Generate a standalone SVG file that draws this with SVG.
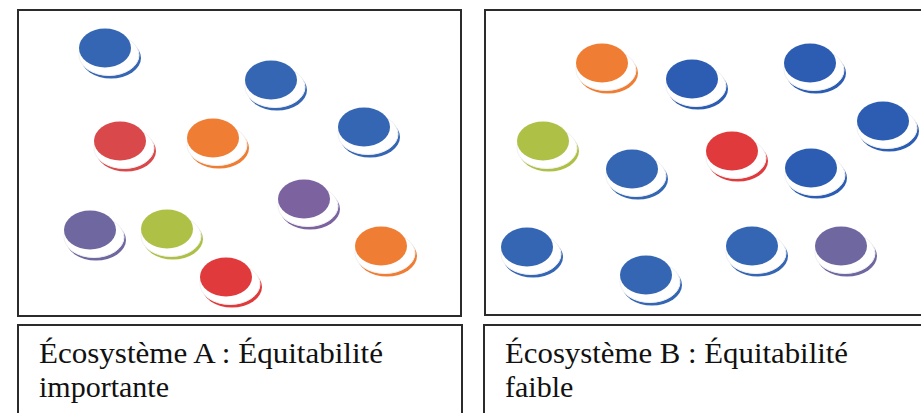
<svg xmlns="http://www.w3.org/2000/svg" xmlns:xlink="http://www.w3.org/1999/xlink" width="921" height="413" viewBox="0 0 921 413">
<style>
.frame{fill:#fff;stroke:#2b2b2b;stroke-width:2}
.lbl{font-family:"Liberation Serif","Times New Roman",serif;font-size:30px;fill:#111}
.blue{color:#3566b4}
.blueB{color:#2c5db2}
.red{color:#d9484a}
.red2{color:#e03a3c}
.orange{color:#f07d34}
.purple{color:#7c63a0}
.slate{color:#6e67a0}
.green{color:#afc046}
</style>
<defs>
<g id="chip">
<ellipse cx="6" cy="10" rx="30" ry="20.5" fill="currentColor"/>
<ellipse cx="4" cy="7" rx="30" ry="20.5" fill="#fff" stroke="#f1f1f1" stroke-width="1"/>
<ellipse cx="0" cy="0" rx="26" ry="19.5" fill="currentColor"/>
</g>
</defs>
<rect width="921" height="413" fill="#fff"/>
<g id="panelA">
<rect class="frame" x="18" y="10" width="443" height="306"/>
</g>
<g id="panelB">
<rect class="frame" x="485" y="10" width="445" height="305"/>
</g>
<g id="chipsA">
<g id="a1" class="blue" transform="translate(105,48)"><use xlink:href="#chip" href="#chip"/></g>
<g id="a2" class="blue" transform="translate(271,80)"><use xlink:href="#chip" href="#chip"/></g>
<g id="a3" class="blue" transform="translate(364,127)"><use xlink:href="#chip" href="#chip"/></g>
<g id="a4" class="red" transform="translate(120,141)"><use xlink:href="#chip" href="#chip"/></g>
<g id="a5" class="orange" transform="translate(213,138)"><use xlink:href="#chip" href="#chip"/></g>
<g id="a6" class="purple" transform="translate(304,199)"><use xlink:href="#chip" href="#chip"/></g>
<g id="a7" class="slate" transform="translate(90,230)"><use xlink:href="#chip" href="#chip"/></g>
<g id="a8" class="green" transform="translate(167,229)"><use xlink:href="#chip" href="#chip"/></g>
<g id="a9" class="red2" transform="translate(226,277)"><use xlink:href="#chip" href="#chip"/></g>
<g id="a10" class="orange" transform="translate(381,246)"><use xlink:href="#chip" href="#chip"/></g>
</g>
<g id="chipsB">
<g id="b1" class="orange" transform="translate(602,63)"><use xlink:href="#chip" href="#chip"/></g>
<g id="b2" class="blueB" transform="translate(692,79)"><use xlink:href="#chip" href="#chip"/></g>
<g id="b3" class="blueB" transform="translate(810,63)"><use xlink:href="#chip" href="#chip"/></g>
<g id="b4" class="blueB" transform="translate(883,121)"><use xlink:href="#chip" href="#chip"/></g>
<g id="b5" class="green" transform="translate(543,141)"><use xlink:href="#chip" href="#chip"/></g>
<g id="b6" class="blue" transform="translate(632,169)"><use xlink:href="#chip" href="#chip"/></g>
<g id="b7" class="red2" transform="translate(732,151)"><use xlink:href="#chip" href="#chip"/></g>
<g id="b8" class="blueB" transform="translate(811,168)"><use xlink:href="#chip" href="#chip"/></g>
<g id="b9" class="blue" transform="translate(527,247)"><use xlink:href="#chip" href="#chip"/></g>
<g id="b10" class="blue" transform="translate(646,275)"><use xlink:href="#chip" href="#chip"/></g>
<g id="b11" class="blue" transform="translate(752,246)"><use xlink:href="#chip" href="#chip"/></g>
<g id="b12" class="slate" transform="translate(841,246)"><use xlink:href="#chip" href="#chip"/></g>
</g>
<g id="labelA">
<rect class="frame" x="18" y="325" width="444" height="100"/>
<text class="lbl" x="39" y="363" textLength="344" lengthAdjust="spacingAndGlyphs">Écosystème A : Équitabilité</text>
<text class="lbl" x="39" y="397">importante</text>
</g>
<g id="labelB">
<rect class="frame" x="484" y="325" width="446" height="100"/>
<text class="lbl" x="505" y="363" textLength="343" lengthAdjust="spacingAndGlyphs">Écosystème B : Équitabilité</text>
<text class="lbl" x="505" y="397">faible</text>
</g>
</svg>
